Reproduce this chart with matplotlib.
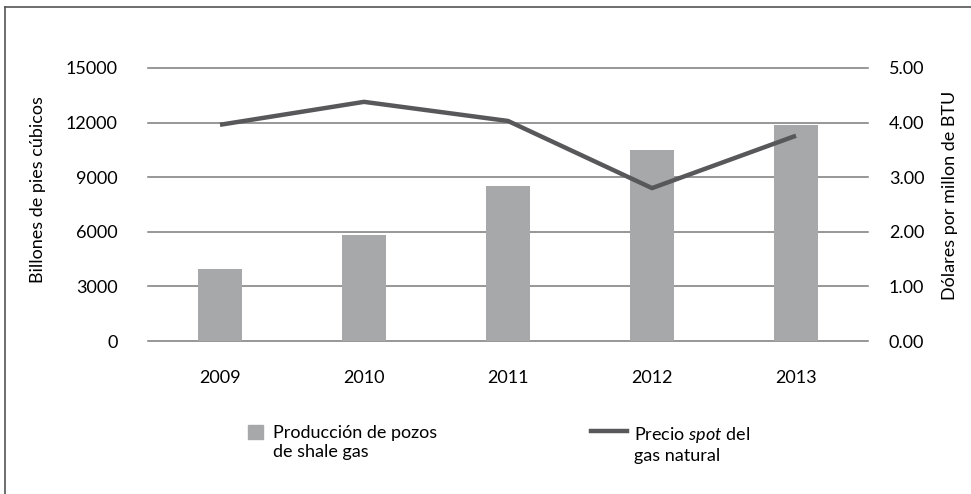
import matplotlib
matplotlib.use("Agg")
import matplotlib.pyplot as plt
from matplotlib.patches import Rectangle
from matplotlib.lines import Line2D

plt.rcParams['font.family'] = ['Lato', 'DejaVu Sans']
plt.rcParams['mathtext.fontset'] = 'custom'
plt.rcParams['mathtext.rm'] = 'Lato'
plt.rcParams['mathtext.it'] = 'Lato:italic'

# datos
years = ['2009', '2010', '2011', '2012', '2013']
produccion = [3950, 5800, 8500, 10500, 11850]      # billones de pies cubicos
precio_spot = [3.96, 4.38, 4.03, 2.80, 3.76]        # dolares por millon de BTU
left_ticks = [0, 3000, 6000, 9000, 12000, 15000]
right_ticks = [0, 1, 2, 3, 4, 5]

bar_color = '#a7a8aa'
line_color = '#58585a'
grid_color = '#7a7a7a'
fs = 13

W, H = 971, 494
fig = plt.figure(figsize=(W / 100, H / 100), dpi=100)
ax = fig.add_axes([148 / W, 1 - 341 / H, 720 / W, 273 / H])
x = list(range(len(years)))

ax.bar(x, produccion, width=0.3, color=bar_color, zorder=2)
ax.set_xlim(-0.5, len(years) - 0.5)
ax.set_ylim(0, 15000)
ax.set_yticks(left_ticks)
ax.set_yticklabels([str(t) for t in left_ticks])
ax.set_xticks(x)
ax.set_xticklabels(years)
for t in left_ticks:
    ax.axhline(t, color=grid_color, lw=1.1, zorder=1, clip_on=False)
for s in ax.spines.values():
    s.set_visible(False)
ax.tick_params(axis='y', length=0, pad=22, labelsize=fs)
ax.tick_params(axis='x', length=0, pad=21, labelsize=fs)
ax.set_ylabel('Billones de pies cúbicos', fontsize=fs, va='center')
ax.yaxis.set_label_coords((38 - 148) / 720, (341 - 190) / 273)

ax2 = ax.twinx()
ax2.plot(x, precio_spot, color=line_color, lw=3.2, zorder=3,
         solid_capstyle='butt')
ax2.set_ylim(0, 5)
ax2.set_yticks(right_ticks)
ax2.set_yticklabels(['%.2f' % t for t in right_ticks])
for s in ax2.spines.values():
    s.set_visible(False)
ax2.tick_params(axis='y', length=0, pad=15, labelsize=fs)
ax2.set_ylabel('Dólares por millon de BTU', fontsize=fs, va='center')
ax2.yaxis.set_label_coords((950 - 148) / 720, (341 - 195) / 273)

# leyenda
fig.add_artist(Rectangle((248 / W, 1 - 439 / H), 15 / W, 14 / H,
                         transform=fig.transFigure, color=bar_color))
fig.text(273 / W, 1 - 425 / H, 'Producción de pozos\nde shale gas',
         fontsize=fs, va='top', ha='left', linespacing=1.22)
fig.add_artist(Line2D([591 / W, 627 / W], [1 - 431 / H, 1 - 431 / H],
                      transform=fig.transFigure, color=line_color, lw=3.2))
fig.text(634 / W, 1 - 425 / H, 'Precio $\\mathit{spot}$ del\ngas natural',
         fontsize=fs, va='top', ha='left', linespacing=1.22)

# marco (solo borde superior e izquierdo)
fig.add_artist(Line2D([5 / W, 5 / W], [0, 1 - 7 / H],
                      transform=fig.transFigure, color='#555555', lw=1.2))
fig.add_artist(Line2D([5 / W, 1], [1 - 7 / H, 1 - 7 / H],
                      transform=fig.transFigure, color='#555555', lw=1.2))

fig.savefig('out.png', dpi=100)
